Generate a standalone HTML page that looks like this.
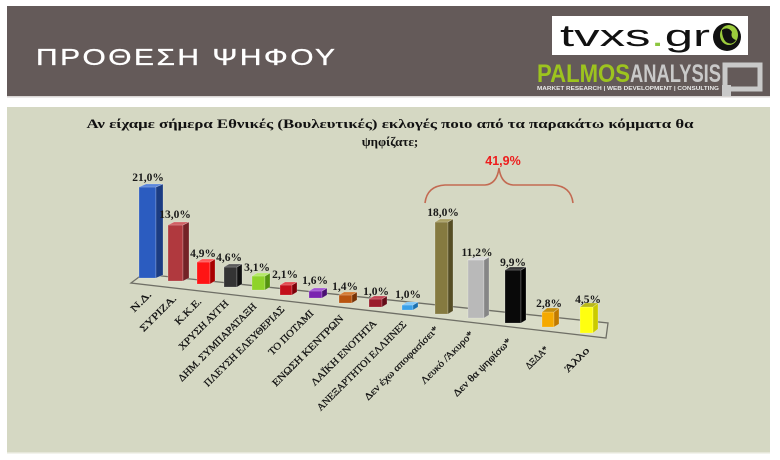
<!DOCTYPE html>
<html><head><meta charset="utf-8"><style>
html,body{margin:0;padding:0;background:#fff;}
svg{display:block;}
</style></head><body>
<svg width="780" height="460" viewBox="0 0 780 460" xmlns="http://www.w3.org/2000/svg">
<rect x="0" y="0" width="780" height="460" fill="#ffffff"/>
<!-- header -->
<rect x="7" y="6" width="763" height="91" fill="#645a59"/>
<rect x="7" y="96" width="763" height="1.5" fill="#d9d6d4"/>
<g transform="translate(36,65) scale(1.3,1)">
<text x="0" y="0" font-family="Liberation Sans, sans-serif" font-size="23" fill="#ffffff" stroke="#ffffff" stroke-width="0.35" textLength="230" lengthAdjust="spacing">ΠΡΟΘΕΣΗ ΨΗΦΟΥ</text>
</g>
<!-- tvxs logo -->
<rect x="552" y="16" width="196" height="39" fill="#ffffff"/>
<text x="560" y="46" font-family="Liberation Sans, sans-serif" font-size="31" fill="#111" textLength="150" lengthAdjust="spacingAndGlyphs">tvxs<tspan fill="#8cc63f">.</tspan>gr</text>
<circle cx="727" cy="37" r="14" fill="#111"/>
<ellipse cx="729" cy="35" rx="9" ry="10" fill="#9ccc3c"/>
<path d="M722,30 q6,-4 10,2 q-2,6 4,8 q-4,6 -10,2 q-4,-4 -4,-12z" fill="#111"/>
<!-- palmos -->
<text x="537" y="82" font-family="Liberation Sans Narrow, Liberation Sans, sans-serif" font-weight="bold" font-size="25" fill="#9dc41e" textLength="93" lengthAdjust="spacingAndGlyphs">PALMOS</text>
<text x="630" y="82" font-family="Liberation Sans Narrow, Liberation Sans, sans-serif" font-weight="bold" font-size="25" fill="#c9c9c9" textLength="91" lengthAdjust="spacingAndGlyphs">ANALYSIS</text>
<text x="537" y="90" font-family="Liberation Sans, sans-serif" font-weight="bold" font-size="5.5" fill="#e8e8e8" textLength="182" lengthAdjust="spacingAndGlyphs">MARKET RESEARCH | WEB DEVELOPMENT | CONSULTING</text>
<rect x="725" y="65" width="35" height="24" fill="none" stroke="#c9c9c9" stroke-width="5"/>
<rect x="722" y="85" width="9" height="11" fill="#c9c9c9"/>
<!-- panel -->
<rect x="7" y="107" width="763" height="346" fill="#d5d8c3"/>
<rect x="7" y="452" width="763" height="1.5" fill="#e6e7da"/>
<!-- title -->
<text x="390" y="128" text-anchor="middle" font-family="Liberation Serif, serif" font-weight="bold" font-size="13" fill="#111" textLength="607" lengthAdjust="spacingAndGlyphs">Αν είχαμε σήμερα Εθνικές (Βουλευτικές) εκλογές ποιο από τα παρακάτω κόμματα θα</text>
<text x="390" y="146" text-anchor="middle" font-family="Liberation Serif, serif" font-weight="bold" font-size="13" fill="#111">ψηφίζατε;</text>
<!-- brace -->
<text x="503" y="165" text-anchor="middle" font-family="Liberation Sans, sans-serif" font-weight="bold" font-size="12.5" fill="#ee1c1c">41,9%</text>
<path d="M425,203 Q427,186 445,185 L485,185 Q497,184 499,168 Q501,184 513,185 L553,185 Q571,186 573,203" fill="none" stroke="#c36a52" stroke-width="1.6"/>
<!-- floor -->
<polygon points="131,283 143,274 608,323 606,338" fill="#d9dcc8" stroke="#6f6f66" stroke-width="1.3"/>
<!-- bars: front, side, top -->
<g stroke="rgba(255,255,255,0.35)" stroke-width="0.6">
<polygon points="139,187 156,187 156,278 139,278" fill="#2b5cc0"/>
<polygon points="156,187 163,184 163,275 156,278" fill="#1b3c82"/>
<polygon points="139,187 146,184 163,184 156,187" fill="#5b86da"/>
<polygon points="168,225 183,225 183,281 168,281" fill="#b0393e"/>
<polygon points="183,225 189,222 189,278 183,281" fill="#742226"/>
<polygon points="168,225 174,222 189,222 183,225" fill="#d06064"/>
<polygon points="197,262 210,262 210,284 197,284" fill="#ff1414"/>
<polygon points="210,262 215,259 215,281 210,284" fill="#a80000"/>
<polygon points="197,262 202,259 215,259 210,262" fill="#ff5a5a"/>
<polygon points="224,267 237,267 237,287 224,287" fill="#343434"/>
<polygon points="237,267 242,264 242,284 237,287" fill="#111111"/>
<polygon points="224,267 229,264 242,264 237,267" fill="#5a5a5a"/>
<polygon points="252,276 265,276 265,290 252,290" fill="#8fd32b"/>
<polygon points="265,276 270,273 270,287 265,290" fill="#559410"/>
<polygon points="252,276 257,273 270,273 265,276" fill="#b3e866"/>
<polygon points="280,285 292,285 292,295 280,295" fill="#c3101b"/>
<polygon points="292,285 297,282 297,292 292,295" fill="#7e0008"/>
<polygon points="280,285 285,282 297,282 292,285" fill="#e24a50"/>
<polygon points="309,291 322,291 322,298 309,298" fill="#7a22b0"/>
<polygon points="322,291 327,288 327,295 322,298" fill="#4a0f72"/>
<polygon points="309,291 314,288 327,288 322,291" fill="#a456d4"/>
<polygon points="339,295 352,295 352,303 339,303" fill="#b8540f"/>
<polygon points="352,295 357,292 357,300 352,303" fill="#773305"/>
<polygon points="339,295 344,292 357,292 352,295" fill="#d47c34"/>
<polygon points="369,299 382,299 382,307 369,307" fill="#9a1c2a"/>
<polygon points="382,299 387,296 387,304 382,307" fill="#640c18"/>
<polygon points="369,299 374,296 387,296 382,299" fill="#c24454"/>
<polygon points="402,305 413,305 413,310 402,310" fill="#3aa0e8"/>
<polygon points="413,305 418,302 418,307 413,310" fill="#1a6fae"/>
<polygon points="402,305 407,302 418,302 413,305" fill="#82c8f8"/>
<polygon points="435,222 448,222 448,314 435,314" fill="#857a40"/>
<polygon points="448,222 453,219 453,311 448,314" fill="#554d24"/>
<polygon points="435,222 440,219 453,219 448,222" fill="#a9a064"/>
<polygon points="468,260 484,260 484,318 468,318" fill="#b9b9b9"/>
<polygon points="484,260 489,257 489,315 484,318" fill="#868686"/>
<polygon points="468,260 473,257 489,257 484,260" fill="#dadada"/>
<polygon points="505,270 521,270 521,323 505,323" fill="#090909"/>
<polygon points="521,270 526,267 526,320 521,323" fill="#000000"/>
<polygon points="505,270 510,267 526,267 521,270" fill="#383838"/>
<polygon points="542,312 554,312 554,327 542,327" fill="#f5a900"/>
<polygon points="554,312 559,308 559,324 554,327" fill="#c07a00"/>
<polygon points="542,312 547,308 559,308 554,312" fill="#c38f10"/>
<polygon points="580,307 593,307 593,333 580,333" fill="#ffff10"/>
<polygon points="593,307 598,303 598,329 593,333" fill="#caca00"/>
<polygon points="580,307 585,303 598,303 593,307" fill="#b9b81a"/>
</g>
<!-- value labels -->
<g font-family="Liberation Serif, serif" font-weight="bold" font-size="11.5" fill="#1a1a1a" text-anchor="middle">
<text x="148" y="181">21,0%</text>
<text x="175" y="218">13,0%</text>
<text x="203" y="257">4,9%</text>
<text x="229" y="261">4,6%</text>
<text x="257" y="271">3,1%</text>
<text x="285" y="278">2,1%</text>
<text x="315" y="284">1,6%</text>
<text x="345" y="290">1,4%</text>
<text x="376" y="295">1,0%</text>
<text x="408" y="298">1,0%</text>
<text x="443" y="216">18,0%</text>
<text x="477" y="256">11,2%</text>
<text x="513" y="266">9,9%</text>
<text x="549" y="307">2,8%</text>
<text x="588" y="303">4,5%</text>
</g>
<!-- category labels -->
<g font-family="Liberation Serif, serif" font-size="10" fill="#111" stroke="#111" stroke-width="0.25" text-anchor="end">
<text transform="translate(152,295) rotate(-45)" textLength="25" lengthAdjust="spacingAndGlyphs">Ν.Δ.</text>
<text transform="translate(177,299) rotate(-45)" textLength="47" lengthAdjust="spacingAndGlyphs">ΣΥΡΙΖΑ.</text>
<text transform="translate(202,302) rotate(-45)" textLength="33" lengthAdjust="spacingAndGlyphs">Κ.Κ.Ε.</text>
<text transform="translate(229,304) rotate(-45)" textLength="66" lengthAdjust="spacingAndGlyphs">ΧΡΥΣΗ ΑΥΓΗ</text>
<text transform="translate(257,307) rotate(-45)" textLength="106" lengthAdjust="spacingAndGlyphs">ΔΗΜ. ΣΥΜΠΑΡΑΤΑΞΗ</text>
<text transform="translate(285,310) rotate(-45)" textLength="109" lengthAdjust="spacingAndGlyphs">ΠΛΕΥΣΗ ΕΛΕΥΘΕΡΙΑΣ</text>
<text transform="translate(314,314) rotate(-45)" textLength="59" lengthAdjust="spacingAndGlyphs">ΤΟ ΠΟΤΑΜΙ</text>
<text transform="translate(344,319) rotate(-45)" textLength="96" lengthAdjust="spacingAndGlyphs">ΕΝΩΣΗ ΚΕΝΤΡΩΝ</text>
<text transform="translate(377,324) rotate(-45)" textLength="88" lengthAdjust="spacingAndGlyphs">ΛΑΪΚΗ ΕΝΟΤΗΤΑ</text>
<text transform="translate(407,325) rotate(-45)" textLength="122" lengthAdjust="spacingAndGlyphs">ΑΝΕΞΑΡΤΗΤΟΙ ΕΛΛΗΝΕΣ</text>
<text transform="translate(439,330) rotate(-45)" textLength="100" lengthAdjust="spacingAndGlyphs">Δεν έχω αποφασίσει*</text>
<text transform="translate(474,335) rotate(-45)" textLength="70" lengthAdjust="spacingAndGlyphs">Λευκό /Άκυρο*</text>
<text transform="translate(512,342) rotate(-45)" textLength="78" lengthAdjust="spacingAndGlyphs">Δεν θα ψηφίσω*</text>
<text transform="translate(549,350) rotate(-45)" textLength="28" lengthAdjust="spacingAndGlyphs">ΔΞΔΑ*</text>
<text transform="translate(590,351) rotate(-45)" textLength="31" lengthAdjust="spacingAndGlyphs">Άλλο</text>
</g>
</svg>
</body></html>
